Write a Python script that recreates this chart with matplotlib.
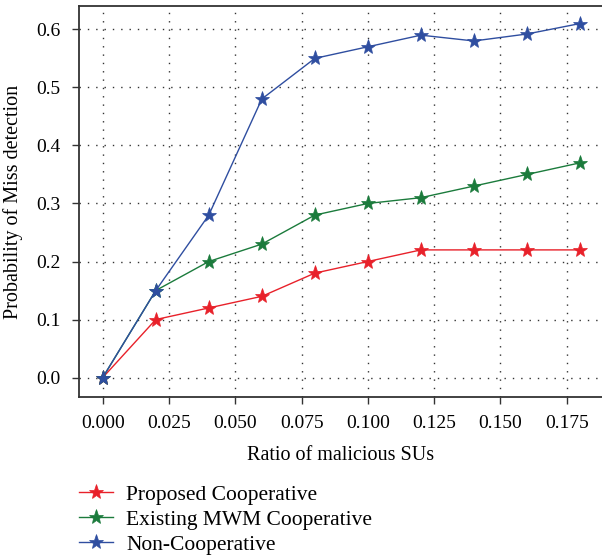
import numpy as np
import matplotlib.pyplot as plt

# Miss-detection probability vs. ratio of malicious SUs
ratio = [0.0, 0.02, 0.04, 0.06, 0.08, 0.10, 0.12, 0.14, 0.16, 0.18]
proposed = [0.0, 0.10, 0.12, 0.14, 0.18, 0.20, 0.22, 0.22, 0.22, 0.22]
mwm = [0.0, 0.15, 0.20, 0.23, 0.28, 0.30, 0.31, 0.33, 0.35, 0.37]
noncoop = [0.0, 0.15, 0.28, 0.48, 0.55, 0.57, 0.59, 0.58, 0.592, 0.61]
labels = ['Proposed Cooperative', 'Existing MWM Cooperative', 'Non-Cooperative']
colors = ['#e8212a', '#1b7b3c', '#2f4ea0']

xticks = np.arange(0, 0.176, 0.025)
yticks = np.arange(0, 0.61, 0.1)

plt.rcParams['font.family'] = ['Liberation Serif', 'DejaVu Serif']
fig = plt.figure(figsize=(6.02, 5.58), dpi=100)
ax = fig.add_axes([0.131, 0.289, 0.869, 0.700])

for y, lab, c in zip([proposed, mwm, noncoop], labels, colors):
    ax.plot(ratio, y, color=c, lw=1.0, marker='*', markersize=11,
            markeredgewidth=0.5, label=lab)

ax.set_xlim(-0.009, 0.1883)
ax.set_ylim(-0.033, 0.64)
ax.set_xticks(xticks)
ax.set_yticks(yticks)
ax.set_xticklabels([f'{t:.3f}' for t in xticks])
ax.set_yticklabels([f'{t:.1f}' for t in yticks])
ax.tick_params(direction='out', length=5, width=1, labelsize=14, color='#333333', pad=8)
ax.grid(True, color='#333333', linestyle=(0, (1, 5)), lw=1)

for s in ['left', 'bottom', 'top']:
    ax.spines[s].set_color('#333333')
    ax.spines[s].set_linewidth(1.3)
ax.spines['right'].set_visible(False)

ax.set_xlabel('Ratio of malicious SUs', fontsize=14.5, labelpad=10)
ax.set_ylabel('Probability of Miss detection', fontsize=14.5, labelpad=10)

fig.legend(loc='upper left', bbox_to_anchor=(0.131, 0.131), frameon=False,
           fontsize=15.5, handlelength=1.6, labelspacing=0.22, handletextpad=0.6,
           borderpad=0, borderaxespad=0)

fig.savefig('out.png', dpi=100)
